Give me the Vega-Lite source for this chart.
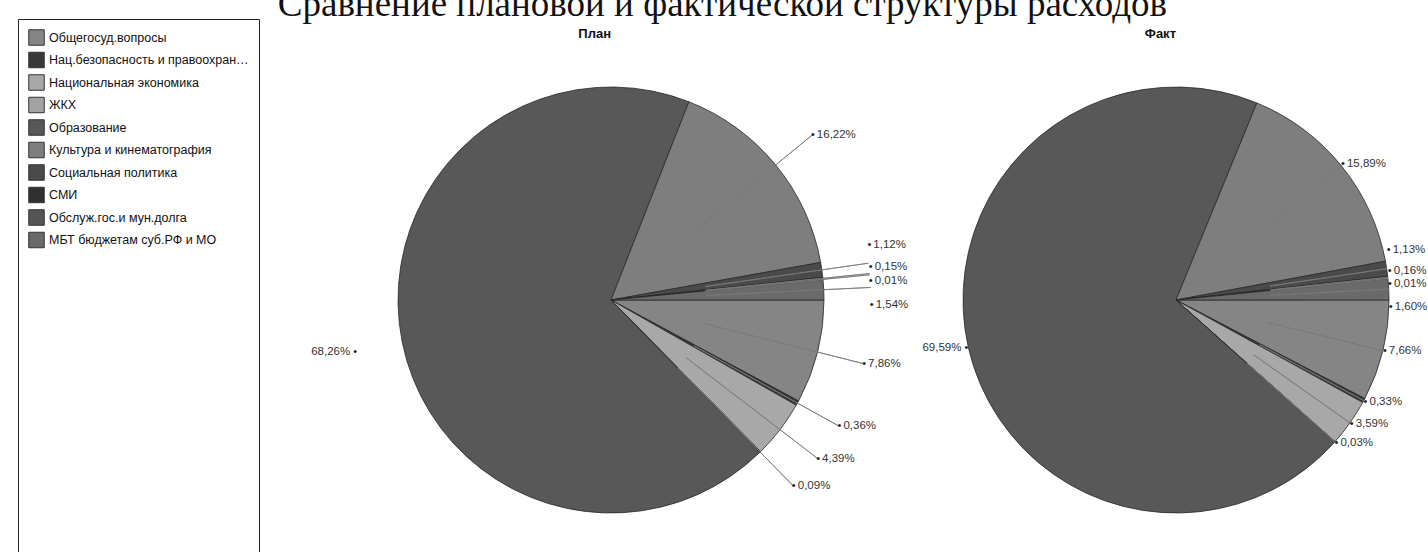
{
  "$schema": "https://vega.github.io/schema/vega-lite/v6.json",
  "padding": {"left": 17, "top": -15, "right": 0, "bottom": 0},
  "title": {"text": "Сравнение плановой и фактической структуры расходов", "font": "Liberation Serif", "fontSize": 37, "fontWeight": "normal", "color": "#111111", "anchor": "middle", "frame": "bounds", "offset": -5},
  "data": {"values": [
    {"period": "План", "code": 100, "cat": "Общегосуд.вопросы", "share": 0.0786},
    {"period": "План", "code": 300, "cat": "Нац.безопасность и правоохранительная деятельность", "share": 0.0036},
    {"period": "План", "code": 400, "cat": "Национальная экономика", "share": 0.0439},
    {"period": "План", "code": 500, "cat": "ЖКХ", "share": 0.0009},
    {"period": "План", "code": 700, "cat": "Образование", "share": 0.6826},
    {"period": "План", "code": 800, "cat": "Культура и кинематография", "share": 0.1622},
    {"period": "План", "code": 1000, "cat": "Социальная политика", "share": 0.0112},
    {"period": "План", "code": 1200, "cat": "СМИ", "share": 0.0015},
    {"period": "План", "code": 1300, "cat": "Обслуж.гос.и мун.долга", "share": 0.0001},
    {"period": "План", "code": 1400, "cat": "МБТ бюджетам суб.РФ и МО", "share": 0.0154},
    {"period": "Факт", "code": 100, "cat": "Общегосуд.вопросы", "share": 0.0766},
    {"period": "Факт", "code": 300, "cat": "Нац.безопасность и правоохранительная деятельность", "share": 0.0033},
    {"period": "Факт", "code": 400, "cat": "Национальная экономика", "share": 0.0359},
    {"period": "Факт", "code": 500, "cat": "ЖКХ", "share": 0.0003},
    {"period": "Факт", "code": 700, "cat": "Образование", "share": 0.6959},
    {"period": "Факт", "code": 800, "cat": "Культура и кинематография", "share": 0.1589},
    {"period": "Факт", "code": 1000, "cat": "Социальная политика", "share": 0.0113},
    {"period": "Факт", "code": 1200, "cat": "СМИ", "share": 0.0016},
    {"period": "Факт", "code": 1300, "cat": "Обслуж.гос.и мун.долга", "share": 0.0001},
    {"period": "Факт", "code": 1400, "cat": "МБТ бюджетам суб.РФ и МО", "share": 0.0160}
  ]},
  "facet": {"column": {"field": "period", "type": "nominal", "sort": ["План", "Факт"],
    "header": {"title": null, "labelFont": "Liberation Sans", "labelFontWeight": "bold", "labelFontSize": 13, "labelColor": "#111111", "labelAlign": "right", "labelPadding": 19}}},
  "spacing": 65,
  "bounds": "flush",
  "spec": {
    "width": 500,
    "height": 480,
    "encoding": {
      "theta": {"field": "share", "type": "quantitative", "stack": true, "scale": {"domain": [0, 1], "range": [1.5708, 7.854]}},
      "order": {"field": "code", "type": "quantitative"}
    },
    "layer": [
      {
        "mark": {"type": "arc", "radius": 213, "stroke": "#2a2a2a", "strokeWidth": 0.8},
        "encoding": {
          "color": {"field": "cat", "type": "nominal",
            "scale": {
              "domain": ["Общегосуд.вопросы", "Нац.безопасность и правоохранительная деятельность", "Национальная экономика", "ЖКХ", "Образование", "Культура и кинематография", "Социальная политика", "СМИ", "Обслуж.гос.и мун.долга", "МБТ бюджетам суб.РФ и МО"],
              "range": ["#858585", "#383838", "#a8a8a8", "#a3a3a3", "#585858", "#7e7e7e", "#4a4a4a", "#303030", "#555555", "#6a6a6a"]
            },
            "legend": {
              "orient": "none", "legendX": -343, "legendY": -41,
              "title": " ", "titleOrient": "bottom", "titleFontSize": 2, "titlePadding": 320,
              "fillColor": "white", "strokeColor": "#222222", "padding": 10,
              "symbolType": "square", "symbolSize": 240, "symbolStrokeColor": "#333333", "symbolStrokeWidth": 1, "symbolOpacity": 1,
              "labelFont": "Liberation Sans", "labelFontSize": 12.5, "labelColor": "#111111", "labelLimit": 203, "labelOffset": 4,
              "rowPadding": 1.5
            }
          }
        }
      },
      {
        "mark": {"type": "arc", "padAngle": 3.1416, "radius2": 95, "radius": {"expr": "datum.period === 'План' ? 260 : 213"}, "fillOpacity": 0, "stroke": "#7a7a7a", "strokeWidth": 0.8},
        "encoding": {
          "detail": {"field": "cat"},
          "strokeOpacity": {"condition": {"test": "datum.share > 0.5", "value": 0}, "value": 1}
        }
      },
      {
        "mark": {"type": "text", "font": "Liberation Sans", "fontSize": 11, "color": "#222222", "baseline": "middle", "align": "center",
          "radius": {"expr": "datum.period === 'План' ? 261 : 215"},
          "dy": {"expr": "indexof(['Социальная политика','СМИ','Обслуж.гос.и мун.долга','МБТ бюджетам суб.РФ и МО'], datum.cat) >= 0 ? (indexof(['Социальная политика','СМИ','Обслуж.гос.и мун.долга','МБТ бюджетам суб.РФ и МО'], datum.cat) - 1.5) * 12 : 0"}
        },
        "encoding": {
          "detail": {"field": "cat"},
          "text": {"value": "•"}
        }
      },
      {
        "mark": {"type": "text", "font": "Liberation Sans", "fontSize": 11.5, "color": "#333333", "baseline": "middle",
          "radius": {"expr": "datum.period === 'План' ? 261 : 215"},
          "align": {"expr": "datum.share > 0.5 ? 'right' : 'left'"},
          "dx": {"expr": "datum.share > 0.5 ? -5 : 4"},
          "dy": {"expr": "indexof(['Социальная политика','СМИ','Обслуж.гос.и мун.долга','МБТ бюджетам суб.РФ и МО'], datum.cat) >= 0 ? (indexof(['Социальная политика','СМИ','Обслуж.гос.и мун.долга','МБТ бюджетам суб.РФ и МО'], datum.cat) - 1.5) * 12 : 0"}
        },
        "encoding": {
          "detail": {"field": "cat"},
          "text": {"field": "share", "type": "quantitative", "format": ".2%"}
        }
      }
    ]
  },
  "config": {
    "view": {"stroke": null},
    "font": "Liberation Sans",
    "locale": {"number": {"decimal": ",", "thousands": " ", "grouping": [3], "currency": ["", " ₽"]}}
  }
}
